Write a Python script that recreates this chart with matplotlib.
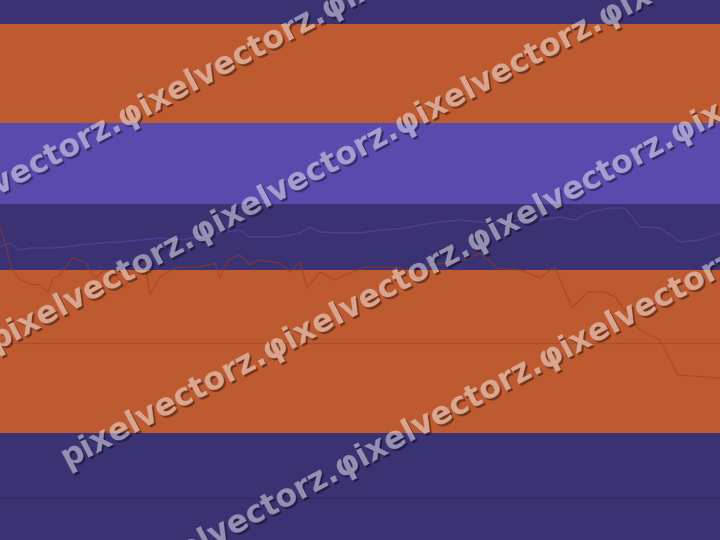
import numpy as np
import matplotlib
matplotlib.use('Agg')
import matplotlib.pyplot as plt
from matplotlib.transforms import IdentityTransform

# colour bands (top, bottom) on an inverted 0-540 value axis
band_edges = [0, 24, 123, 204, 270, 433, 540]
band_colors = ['#3b3273', '#be5a30', '#5b4aad', '#3b3273', '#be5a30', '#3b3273']

# purple series
purple_x = [0, 10, 20, 30, 50, 65, 80, 100, 120, 140, 160, 180, 200, 220, 240,
            250, 280, 300, 310, 320, 340, 360, 380, 400, 420, 440, 460, 480,
            500, 520, 540, 560, 575, 590, 610, 625, 640, 660, 680, 700, 720]
purple_y = [247, 243, 250, 248, 248, 247, 245, 243, 242, 240, 238, 240, 237, 233, 230,
            237, 237, 233, 227, 232, 233, 233, 230, 229, 225, 222, 220, 222,
            223, 220, 220, 217, 220, 212, 208, 208, 227, 228, 242, 240, 233]

# brown series
brown_x = [0, 7, 12, 20, 30, 40, 48, 53, 60, 72, 85, 95, 105, 115, 125, 135, 145,
           150, 160, 175, 185, 200, 215, 220, 228, 240, 250, 258, 280, 290, 300,
           307, 320, 335, 345, 365, 385, 400, 420, 430, 450, 465, 480, 497, 520,
           540, 555, 572, 588, 605, 615, 640, 660, 678, 720]
brown_y = [227, 250, 270, 280, 284, 285, 292, 278, 275, 258, 262, 278, 270, 275, 287, 270, 262,
           295, 277, 268, 267, 267, 263, 278, 260, 255, 265, 260, 263, 272, 262,
           288, 272, 280, 275, 267, 267, 268, 280, 265, 262, 260, 253, 268, 270,
           278, 267, 308, 292, 292, 297, 330, 340, 375, 378]

grid_y = [343, 498]

wm_word = 'φixelvectorz.'
wm_text = 'pixelvectorz.' + wm_word * 5


def shadowed(im, dpi):
    # translucent white text with a dark drop shadow only outside the glyphs
    pad = 3
    m = np.pad(im[..., 3], pad)
    sh = np.zeros_like(m)
    sh[2:, 2:] = m[:-2, :-2]
    a_txt = 0.47 * m
    a_sh = 0.4 * sh * (1 - m)
    a = a_txt + a_sh
    out = np.zeros(m.shape + (4,))
    rgb = np.where(a > 0, a_txt / np.maximum(a, 1e-6), 0)
    out[..., 0] = rgb
    out[..., 1] = rgb
    out[..., 2] = rgb
    out[..., 3] = a
    return out, -pad, -pad


fig = plt.figure(figsize=(7.2, 5.4), dpi=100)
ax = fig.add_axes([0, 0, 1, 1])
ax.set_xlim(0, 720)
ax.set_ylim(540, 0)
ax.axis('off')

for i in range(len(band_colors)):
    ax.axhspan(band_edges[i], band_edges[i + 1], color=band_colors[i], lw=0, zorder=0)

for g in grid_y:
    ax.axhline(g, color='black', alpha=0.12, lw=0.9, zorder=1)

ax.plot(purple_x, purple_y, color='#5b4aad', alpha=0.55, lw=1.0, zorder=2)
ax.plot(brown_x, brown_y, color='#a03c1e', alpha=0.5, lw=1.0, zorder=2)

# size the watermark so one word repeats every ~232 px
r = fig.canvas.get_renderer()
t1 = fig.text(0, 0, wm_word * 3, fontsize=20, fontweight='bold')
t2 = fig.text(0, 0, wm_word * 4, fontsize=20, fontweight='bold')
period20 = t2.get_window_extent(r).width - t1.get_window_extent(r).width
t3 = fig.text(0, 0, 'pixelvectorz.', fontsize=20, fontweight='bold')
lead20 = t3.get_window_extent(r).width
for t in (t1, t2, t3):
    t.remove()
fs = 20 * 232 / period20
lead = lead20 * fs / 20 + 13

ang = 28
u = np.array([np.cos(np.radians(ang)), np.sin(np.radians(ang))])
phi1 = np.array([133.0, 540 - 113.0])   # first φ of the top row
row_step = np.array([72.3, -116.7])
for k in range(4):
    p = phi1 + k * row_step - lead * u
    t = fig.text(p[0], p[1], wm_text, transform=IdentityTransform(),
                 rotation=ang, rotation_mode='anchor', ha='left', va='center',
                 fontsize=fs, fontweight='bold', color='white', zorder=5)
    t.set_agg_filter(shadowed)

fig.savefig('out.png', dpi=100)
